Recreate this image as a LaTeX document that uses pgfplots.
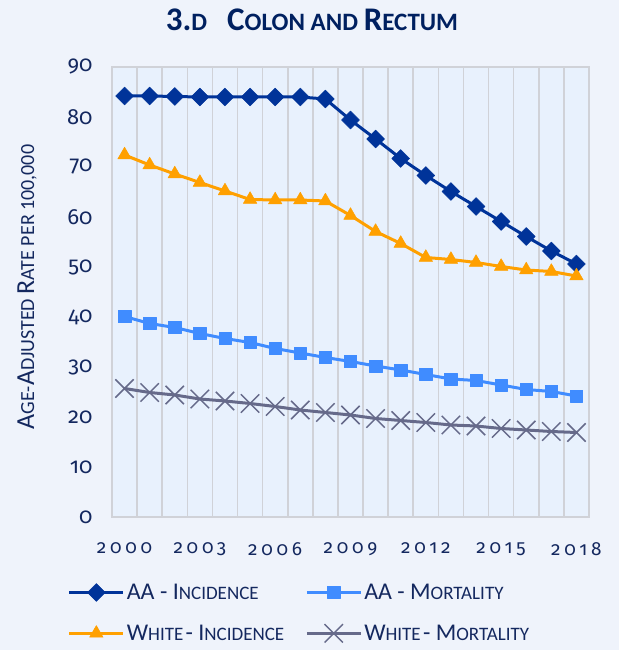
\documentclass[border=0pt]{standalone}
\usepackage{fontspec}
\setmainfont{Carlito}
\newfontfamily\tickfont[Numbers=OldStyle]{Fira Sans}
\newfontfamily\xtickfont[Numbers=OldStyle,LetterSpace=20]{Fira Sans}
\usepackage{pgfplots}
\pgfplotsset{compat=1.18}
\definecolor{pagebg}{RGB}{239,243,251}
\definecolor{plotbg}{RGB}{232,241,253}
\definecolor{gridc}{RGB}{208,210,216}
\definecolor{navy}{RGB}{20,40,95}
\definecolor{titlec}{RGB}{0,32,96}
\definecolor{aainc}{RGB}{0,51,153}
\definecolor{aamort}{RGB}{64,140,255}
\definecolor{whinc}{RGB}{255,160,0}
\definecolor{whmort}{RGB}{102,106,138}
\newcommand{\BC}[1]{{\fontsize{24}{24}\selectfont #1}}
\newcommand{\SC}[1]{{\fontsize{19}{19}\selectfont #1}}
\newcommand{\YB}[1]{{\fontsize{26}{26}\selectfont #1}}
\newcommand{\YS}[1]{{\fontsize{20}{20}\selectfont #1}}
\begin{document}
\begin{tikzpicture}
\fill[pagebg] (0,0) rectangle (619pt,650pt);
\useasboundingbox (0,0) rectangle (619pt,650pt);
\node[text=titlec,font=\bfseries] at (312pt,630pt) {{\fontsize{33}{33}\selectfont 3.}{\fontsize{25}{25}\selectfont D}\hspace{20pt}{\fontsize{33}{33}\selectfont C}{\fontsize{25}{25}\selectfont OLON AND }{\fontsize{33}{33}\selectfont R}{\fontsize{25}{25}\selectfont ECTUM}};
\node[text=navy,rotate=90] at (27pt,363pt) {\YB{A}\YS{GE-}\YB{A}\YS{DJUSTED }\YB{R}\YS{ATE PER 100,000}};
\begin{axis}[
  at={(112pt,133pt)}, anchor=south west,
  width=477pt, height=450pt, scale only axis,
  xmin=-0.5, xmax=18.5, ymin=0, ymax=90,
  xtick={0,3,6,9,12,15,18},
  xticklabels={2000,2003,2006,2009,2012,2015,2018},
  minor xtick={-0.5,0.5,...,18.5},
  xminorgrids=true,
  ytick={0,10,...,90},
  /pgf/number format/assume math mode=true,
  major tick length=0pt, minor tick length=0pt,
  tick style={draw=none},
  axis background/.style={fill=plotbg},
  axis line style={draw=gridc, line width=1.6pt},
  minor grid style={draw=gridc, line width=1.6pt},
  yticklabel style={font=\tickfont\fontsize{22}{22}\selectfont, text=navy, xshift=-16pt},
  xticklabel style={font=\xtickfont\fontsize{19}{19}\selectfont, text=navy, yshift=-22pt},
  every axis plot/.append style={line width=3pt, line join=round},
  legend style={at={(axis description cs:-0.093,-0.144)}, anchor=north west,
    draw=none, fill=none, inner sep=0pt,
    font=\color{navy}, legend columns=2,
    row sep=20pt,
    /tikz/every even column/.append style={column sep=19pt}},
  legend cell align=left,
  legend image code/.code={\draw[mark repeat=2,mark phase=2] plot coordinates {(0pt,0pt) (27pt,0pt) (54pt,0pt)};},
]
\addplot[color=aainc, mark=square*, mark size=6.3pt, mark options={rotate=45, fill=aainc, draw=aainc, line width=0.5pt}] coordinates {
(0,84.2)(1,84.2)(2,84.1)(3,84.0)(4,84.0)(5,84.0)(6,84.0)(7,84.0)(8,83.6)(9,79.4)(10,75.6)(11,71.7)(12,68.3)(13,65.1)(14,62.1)(15,59.1)(16,56.1)(17,53.2)(18,50.6)};
\addlegendentry{\BC{AA - I}\SC{NCIDENCE}}
\addplot[color=aamort, mark=square*, mark size=6.2pt, mark options={fill=aamort, draw=aamort, line width=0.5pt}] coordinates {
(0,40.1)(1,38.7)(2,37.9)(3,36.7)(4,35.7)(5,34.9)(6,33.7)(7,32.8)(8,31.9)(9,31.1)(10,30.2)(11,29.4)(12,28.5)(13,27.6)(14,27.3)(15,26.4)(16,25.5)(17,25.1)(18,24.2)};
\addlegendentry{\BC{AA - M}\SC{ORTALITY}}
\addplot[color=whinc, mark=triangle*, mark size=7.8pt, mark options={fill=whinc, draw=whinc, line width=0.5pt}] coordinates {
(0,72.4)(1,70.4)(2,68.6)(3,66.9)(4,65.2)(5,63.5)(6,63.4)(7,63.4)(8,63.2)(9,60.3)(10,57.1)(11,54.7)(12,51.9)(13,51.5)(14,50.9)(15,50.1)(16,49.4)(17,49.1)(18,48.2)};
\addlegendentry{\BC{W}\SC{HITE} \BC{- I}\SC{NCIDENCE}}
\addplot[color=whmort, mark=x, mark size=13pt, mark options={draw=whmort, line width=1.5pt}] coordinates {
(0,25.7)(1,24.9)(2,24.4)(3,23.6)(4,23.2)(5,22.7)(6,22.1)(7,21.4)(8,20.9)(9,20.4)(10,19.7)(11,19.3)(12,18.9)(13,18.4)(14,18.2)(15,17.7)(16,17.4)(17,17.1)(18,16.9)};
\addlegendentry{\BC{W}\SC{HITE} \BC{- M}\SC{ORTALITY}}
\end{axis}
\end{tikzpicture}
\end{document}
